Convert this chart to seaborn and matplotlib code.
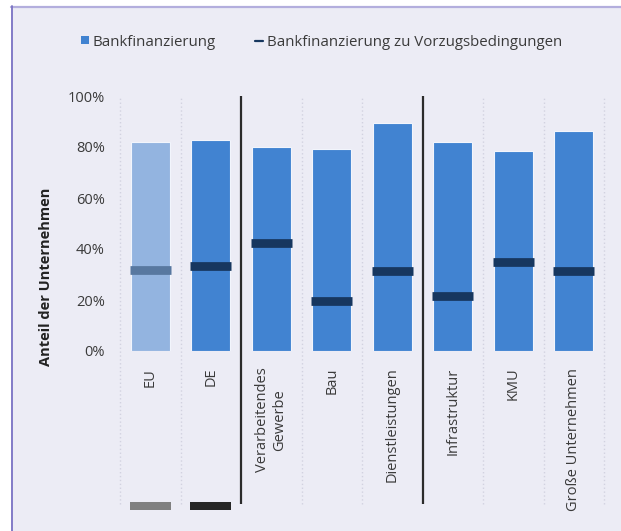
import matplotlib
matplotlib.use("Agg")
import matplotlib.pyplot as plt
from matplotlib.patches import Rectangle, Patch
from matplotlib.lines import Line2D
import seaborn as sns
import pandas as pd

# Kategorien und Werte (Anteil der Unternehmen)
categories = ["EU", "DE", "Verarbeitendes\nGewerbe", "Bau", "Dienstleistungen",
              "Infrastruktur", "KMU", "Große Unternehmen"]
bank_finance = [0.82, 0.827, 0.801, 0.793, 0.894, 0.82, 0.784, 0.862]
preferential = [0.316, 0.332, 0.422, 0.195, 0.312, 0.214, 0.348, 0.312]
y_ticks = [0, 0.2, 0.4, 0.6, 0.8, 1.0]
y_tick_labels = ["0%", "20%", "40%", "60%", "80%", "100%"]
group_breaks = [1.5, 4.5]
swatch_colors = {"EU": "#808080", "DE": "#262626"}

BG = "#ECECF5"
BLUE = "#4183D1"
LIGHT_BLUE = "#93B4E0"
NAVY = "#17375F"
NAVY_LIGHT = "#5878A0"
TEXT = "#3A3A3A"

sns.set_theme(style="white")
plt.rcParams["font.family"] = ["Open Sans", "DejaVu Sans"]

df = pd.DataFrame({"Kategorie": categories, "Bank": bank_finance, "Vorzug": preferential})

fig = plt.figure(figsize=(6.21, 5.31), dpi=100)
fig.patch.set_facecolor("white")

# Hintergrundfläche mit Rahmen oben und links
fig.patches.append(Rectangle((11 / 621, 0), 1 - 11 / 621, 1 - 6 / 531,
                             transform=fig.transFigure, facecolor=BG,
                             edgecolor="none", zorder=-10))
fig.lines.append(Line2D([11 / 621, 1], [1 - 6.5 / 531, 1 - 6.5 / 531],
                        transform=fig.transFigure, color="#B3AEDD", lw=1.6, zorder=-5))
fig.lines.append(Line2D([11.5 / 621, 11.5 / 621], [0, 1 - 6 / 531],
                        transform=fig.transFigure, color="#7B73C4", lw=1.3, zorder=-5))

ax = fig.add_axes([120 / 621, 1 - 351 / 531, 484 / 621, 255 / 531])
ax.set_facecolor("none")

bar_colors = [LIGHT_BLUE] + [BLUE] * (len(categories) - 1)
sns.barplot(data=df, x="Kategorie", y="Bank", hue="Kategorie", palette=bar_colors,
            width=0.65, saturation=1, legend=False, ax=ax,
            edgecolor="#F2F5FC", linewidth=0.8, zorder=3)

# Markierung: Bankfinanzierung zu Vorzugsbedingungen
marker_colors = [NAVY_LIGHT] + [NAVY] * (len(categories) - 1)
for i, (v, c) in enumerate(zip(preferential, marker_colors)):
    ax.hlines(v, i - 0.34, i + 0.34, colors=c, lw=6.3, zorder=4,
              capstyle="butt")

ax.set_xlim(-0.5, len(categories) - 0.5)
ax.set_ylim(0, 1.0)

# Senkrechte Trennlinien zwischen Kategorien
for b in [i - 0.5 for i in range(len(categories) + 1)]:
    if b in group_breaks:
        ax.vlines(b, -0.6, 1.0, colors="#2B2B2B", lw=1.6, clip_on=False, zorder=5)
    else:
        ax.vlines(b, -0.6, 1.0, colors="#D2D2E0", lw=1.0, linestyles=(0, (1.0, 1.8)),
                  clip_on=False, zorder=1)

# Farbfelder unterhalb der Achse
for i, cat in enumerate(categories):
    if cat in swatch_colors:
        ax.add_patch(Rectangle((i - 0.34, -0.624), 0.68, 0.032,
                               facecolor=swatch_colors[cat], edgecolor="none",
                               clip_on=False, zorder=5))

ax.set_yticks(y_ticks)
ax.set_yticklabels(y_tick_labels)
ax.tick_params(axis="y", length=0, pad=11, labelsize=10.5, labelcolor=TEXT)
ax.tick_params(axis="x", length=0, pad=12, labelsize=10.5, labelcolor=TEXT)
for lab in ax.get_xticklabels():
    lab.set_rotation(90)
    lab.set_ha("center")
    lab.set_va("top")
    lab.set_multialignment("center")

ax.set_xlabel("")
ax.set_ylabel("Anteil der Unternehmen", fontsize=10.5, fontweight="bold", color="#222222")
ax.yaxis.set_label_coords(-0.1385, 0.29)
for s in ax.spines.values():
    s.set_visible(False)

handles = [Patch(facecolor=BLUE, edgecolor="none"),
           Line2D([0], [0], color=NAVY, lw=1.6)]
fig.legend(handles, ["Bankfinanzierung", "Bankfinanzierung zu Vorzugsbedingungen"],
           loc="center", bbox_to_anchor=(321.5 / 621, 1 - 42 / 531), ncol=2,
           frameon=False, fontsize=10.8, labelcolor=TEXT, handlelength=0.55,
           handleheight=0.5, handletextpad=0.27, columnspacing=2.6)

fig.savefig("out.png", dpi=100)
